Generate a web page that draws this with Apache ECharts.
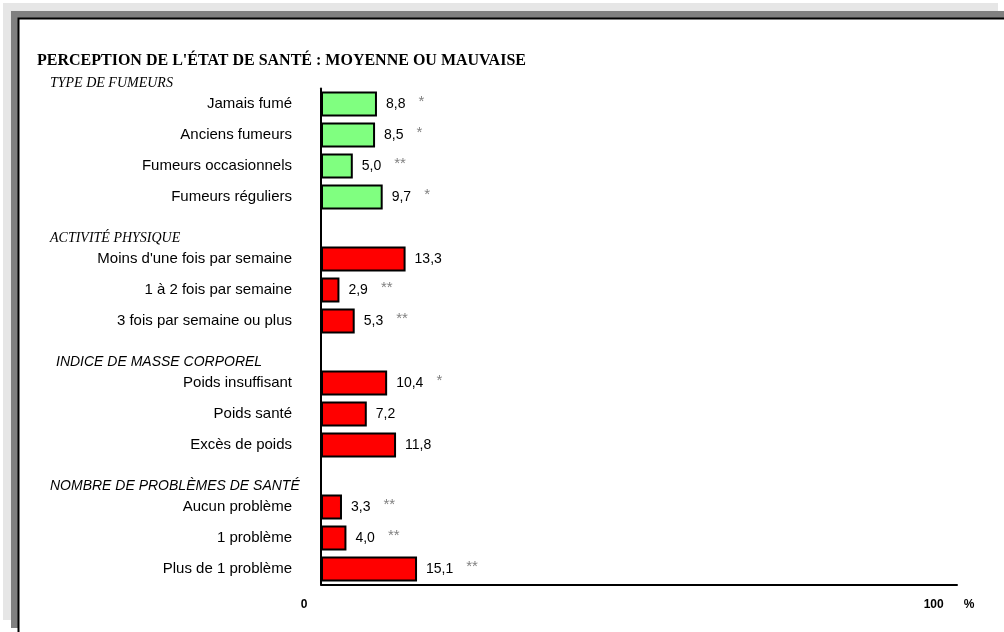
<!DOCTYPE html>
<html>
<head>
<meta charset="utf-8">
<script src="https://cdn.jsdelivr.net/npm/echarts@6/dist/echarts.min.js"></script>
<style>
html,body{margin:0;padding:0;background:#fff;}
#chart{width:1004px;height:632px;}
</style>
</head>
<body>
<div id="chart"></div>
<script>
// ---- data ----
const titleText = "PERCEPTION DE L'ÉTAT DE SANTÉ : MOYENNE OU MAUVAISE";
const groupNames = ['TYPE DE FUMEURS', 'ACTIVITÉ PHYSIQUE', 'INDICE DE MASSE CORPOREL', 'NOMBRE DE PROBLÈMES DE SANTÉ'];

const smokingCats = ['Jamais fumé', 'Anciens fumeurs', 'Fumeurs occasionnels', 'Fumeurs réguliers'];
const smokingVals = [8.8, 8.5, 5.0, 9.7];
const smokingFlags = ['*', '*', '**', '*'];

const activityCats = ["Moins d'une fois par semaine", '1 à 2 fois par semaine', '3 fois par semaine ou plus'];
const activityVals = [13.3, 2.9, 5.3];
const activityFlags = ['', '**', '**'];

const bmiCats = ['Poids insuffisant', 'Poids santé', 'Excès de poids'];
const bmiVals = [10.4, 7.2, 11.8];
const bmiFlags = ['*', '', ''];

const healthCats = ['Aucun problème', '1 problème', 'Plus de 1 problème'];
const healthVals = [3.3, 4.0, 15.1];
const healthFlags = ['**', '**', '**'];

const xTicks = [0, 100];
const xUnit = '%';

// ---- build ----
const groups = [
  {cats: smokingCats, vals: smokingVals, flags: smokingFlags, color: '#80ff80'},
  {cats: activityCats, vals: activityVals, flags: activityFlags, color: '#ff0000'},
  {cats: bmiCats, vals: bmiVals, flags: bmiFlags, color: '#ff0000'},
  {cats: healthCats, vals: healthVals, flags: healthFlags, color: '#ff0000'}
];
const categories = [];
const barData = [];
const headerIdx = [];
groups.forEach((g, gi) => {
  if (gi > 0) {
    headerIdx.push(categories.length);
    categories.push('__h' + gi);
    barData.push({value: null});
  } else {
    headerIdx.push(-1);
  }
  g.cats.forEach((c, i) => {
    categories.push(c);
    barData.push({value: g.vals[i], flag: g.flags[i], itemStyle: {color: g.color}});
  });
});

const fmt = v => v.toFixed(1).replace('.', ',');

const chart = echarts.init(document.getElementById('chart'), null, {renderer: 'canvas'});
const option = {
  animation: false,
  backgroundColor: '#fff',
  title: {
    text: titleText,
    left: 32, top: 48,
    textStyle: {fontFamily: 'Liberation Serif', fontWeight: 'bold', fontSize: 16, color: '#000'}
  },
  grid: {left: 321, right: 47, top: 88.5, bottom: 47.5, containLabel: false},
  xAxis: {
    type: 'value', min: xTicks[0], max: xTicks[xTicks.length - 1], interval: xTicks[1] - xTicks[0],
    axisLine: {show: true, lineStyle: {color: '#000', width: 2}},
    axisTick: {show: false},
    splitLine: {show: false},
    axisLabel: {
      margin: 14,
      formatter: v => v === xTicks[0] ? '{z|' + v + '}' : '{n|' + v + '}{p|' + xUnit + '}',
      rich: {
        z: {fontFamily: 'Liberation Sans', fontWeight: 'bold', fontSize: 12, color: '#000', padding: [0, 34, 0, 0]},
        n: {fontFamily: 'Liberation Sans', fontWeight: 'bold', fontSize: 12, color: '#000'},
        p: {fontFamily: 'Liberation Sans', fontWeight: 'bold', fontSize: 12, color: '#000', padding: [0, 16, 0, 20]}
      }
    }
  },
  yAxis: {
    type: 'category', data: categories, inverse: true,
    axisLine: {show: true, lineStyle: {color: '#000', width: 2}},
    axisTick: {show: false},
    axisLabel: {
      margin: 29, fontFamily: 'Liberation Sans', fontSize: 15, color: '#000',
      formatter: v => v.indexOf('__h') === 0 ? '' : v
    }
  },
  series: [{
    type: 'bar', data: barData, barWidth: 25,
    itemStyle: {borderColor: '#000', borderWidth: 2},
    label: {
      show: true, position: 'right', distance: 9,
      formatter: p => '{v|' + fmt(p.value) + '}' + (p.data.flag ? '{s|' + p.data.flag + '}' : ''),
      rich: {
        v: {fontFamily: 'Liberation Sans', fontSize: 14, color: '#000'},
        s: {fontFamily: 'Liberation Sans', fontSize: 15, color: '#808080', padding: [0, 0, 5, 13]}
      }
    }
  }],
  graphic: [
    {type: 'rect', z: -30, shape: {x: 3, y: 3, width: 995, height: 617}, style: {fill: '#e6e6e6'}, silent: true},
    {type: 'rect', z: -29, shape: {x: 11, y: 11, width: 1100, height: 617}, style: {fill: '#808080'}, silent: true},
    {type: 'rect', z: -28, shape: {x: 18.5, y: 18.5, width: 1100, height: 1100}, style: {fill: '#fff', stroke: '#000', lineWidth: 2}, silent: true}
  ]
};
chart.setOption(option);

// group headers placed from the category scale
const y0 = chart.convertToPixel({yAxisIndex: 0}, 0);
const y1 = chart.convertToPixel({yAxisIndex: 0}, 1);
const slot = y1 - y0;
const headerStyles = [
  {fontFamily: 'Liberation Serif', fontStyle: 'italic', fontSize: 14, x: 50},
  {fontFamily: 'Liberation Serif', fontStyle: 'italic', fontSize: 14, x: 50},
  {fontFamily: 'Liberation Sans', fontStyle: 'italic', fontSize: 14, x: 56},
  {fontFamily: 'Liberation Sans', fontStyle: 'italic', fontSize: 14, x: 50}
];
const headerGraphics = groupNames.map((name, i) => {
  const idx = headerIdx[i];
  const y = idx < 0 ? y0 - slot : chart.convertToPixel({yAxisIndex: 0}, idx);
  const st = headerStyles[i];
  return {
    type: 'text', z: 10, x: st.x, y: y + 10,
    style: {text: name, fontFamily: st.fontFamily, fontStyle: st.fontStyle, fontSize: st.fontSize, fill: '#000', textVerticalAlign: 'middle', verticalAlign: 'middle'}
  };
});
chart.setOption({graphic: option.graphic.concat(headerGraphics)});
</script>
</body>
</html>
